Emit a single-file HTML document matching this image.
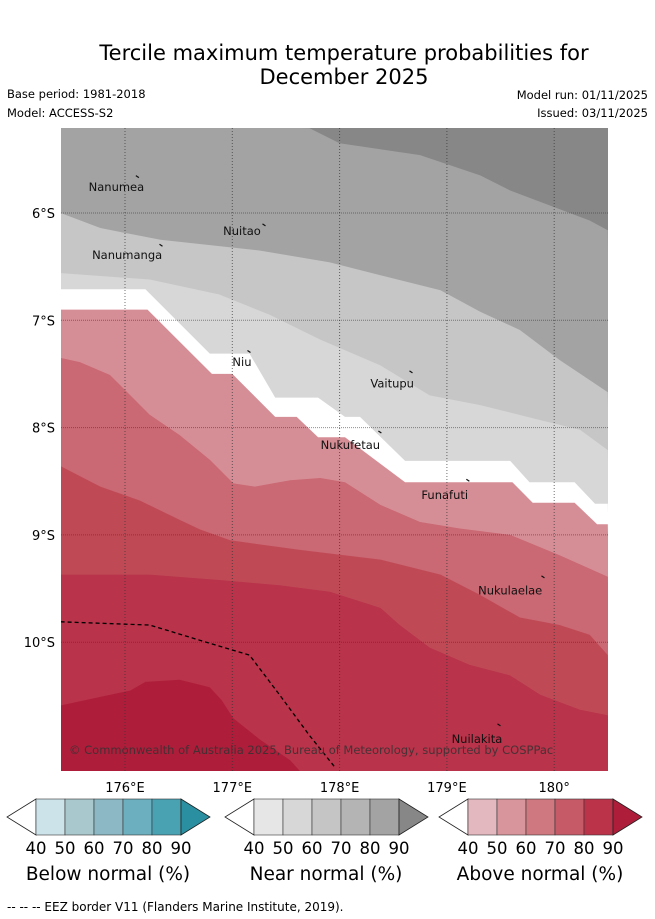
<!DOCTYPE html>
<html><head><meta charset="utf-8"><style>
body{margin:0;background:#fff;width:655px;height:919px;overflow:hidden;font-family:"DejaVu Sans","Liberation Sans",sans-serif}
svg{position:absolute;left:0;top:0}
</style></head><body>
<svg id="chart" width="655" height="919" xmlns="http://www.w3.org/2000/svg" font-family="DejaVu Sans, Liberation Sans, sans-serif">
<text x="344" y="60" font-size="21" text-anchor="middle">Tercile maximum temperature probabilities for</text>
<text x="344" y="84" font-size="21" text-anchor="middle">December 2025</text>
<text x="7" y="98" font-size="11.5">Base period: 1981-2018</text>
<text x="7" y="117" font-size="11.5">Model: ACCESS-S2</text>
<text x="648" y="99" font-size="11.5" text-anchor="end">Model run: 01/11/2025</text>
<text x="648" y="117" font-size="11.5" text-anchor="end">Issued: 03/11/2025</text>
<defs><clipPath id="mapclip"><rect x="61" y="128" width="547" height="643"/></clipPath></defs>
<g id="map" clip-path="url(#mapclip)"></g>
<g id="axes"></g>
<g id="bars"></g>
<text x="7" y="911" font-size="12">--  --  -- EEZ border V11 (Flanders Marine Institute, 2019).</text>
</svg>
<script>
// axis: lon (°E) -> x, lat (°S) -> y
const lonTicks=[176,177,178,179,180];
const lonTickLabels=["176°E","177°E","178°E","179°E","180°"];
const latTicks=[6,7,8,9,10];
const latTickLabels=["6°S","7°S","8°S","9°S","10°S"];
const bandColors=["#878787","#a3a3a3","#c6c6c6","#d7d7d7","#ffffff","#d68e96","#ca6873","#bf4a56","#b9334a","#ae1e3b"];
// boundaries (lon, lat) each separates band i and band i+1
const b1Lon=[177.72,178.00,178.75,179.31,179.59,179.96,180.33,180.50];
const b1Lat=[5.21,5.35,5.46,5.65,5.79,5.93,6.07,6.16];
const b2Lon=[175.40,175.77,176.33,177.26,177.91,178.38,178.94,179.31,179.68,180.05,180.50];
const b2Lat=[6.00,6.14,6.25,6.35,6.46,6.58,6.72,6.92,7.09,7.37,7.67];
const b3Lon=[175.40,176.23,176.88,177.35,177.82,178.38,178.84,179.31,179.87,180.24,180.50];
const b3Lat=[6.56,6.62,6.76,6.95,7.18,7.42,7.70,7.79,7.93,8.02,8.21];
const b4Lon=[175.40,176.19,176.79,177.16,177.40,177.80,178.05,178.19,178.61,179.59,179.77,180.19,180.38,180.50];
const b4Lat=[6.71,6.71,7.31,7.31,7.72,7.72,7.90,7.90,8.31,8.31,8.51,8.51,8.71,8.71];
const b5Lon=[175.40,176.21,176.81,177.00,177.40,177.60,177.80,178.05,178.61,179.61,179.80,180.19,180.40,180.50];
const b5Lat=[6.90,6.90,7.50,7.50,7.90,7.90,8.09,8.09,8.51,8.51,8.70,8.70,8.90,8.90];
const b6Lon=[175.40,175.58,175.86,176.05,176.23,176.51,176.79,177.01,177.21,177.54,177.82,178.05,178.38,178.75,179.12,179.59,180.05,180.50];
const b6Lat=[7.35,7.39,7.51,7.70,7.88,8.07,8.30,8.52,8.55,8.49,8.47,8.51,8.72,8.88,8.94,9.00,9.19,9.39];
const b7Lon=[175.40,175.77,176.14,176.51,176.70,176.98,177.63,178.38,178.94,179.31,179.68,180.05,180.33,180.50];
const b7Lat=[8.36,8.55,8.68,8.86,8.95,9.05,9.14,9.23,9.37,9.56,9.77,9.84,9.93,10.12];
const b8Lon=[175.40,176.23,176.88,177.44,177.91,178.38,178.56,178.84,179.21,179.59,179.87,180.24,180.50];
const b8Lat=[9.37,9.37,9.42,9.47,9.53,9.68,9.84,10.05,10.21,10.31,10.49,10.63,10.68];
const b9Lon=[175.40,175.77,176.05,176.19,176.51,176.79,176.90,177.01,177.26,177.54,177.63];
const b9Lat=[10.59,10.51,10.45,10.37,10.35,10.42,10.54,10.71,10.91,11.10,11.20];
const eezLon=[175.40,176.23,176.79,177.16,177.44,177.72,177.96];
const eezLat=[9.81,9.84,10.01,10.12,10.49,10.87,11.17];
const islandNames=["Nanumea","Nuitao","Nanumanga","Niu","Vaitupu","Nukufetau","Funafuti","Nukulaelae","Nuilakita"];
const islandLon=[176.12,177.30,176.34,177.16,178.67,178.38,179.20,179.90,179.49];
const islandLat=[5.67,6.12,6.31,7.30,7.49,8.05,8.50,9.40,10.78];
const labelLon=[175.92,177.09,176.02,177.09,178.49,178.10,178.98,179.59,179.28];
const labelLat=[5.76,6.17,6.39,7.39,7.59,8.16,8.63,9.52,10.90];

const NS="http://www.w3.org/2000/svg";
const x=lon=>125+(lon-176)*107.3;
const y=lat=>213+(lat-6)*107.3;
const X0=61,X1=608,Y0=128,Y1=771;
function mk(tag,attrs,parent){const e=document.createElementNS(NS,tag);for(const k in attrs)e.setAttribute(k,attrs[k]);parent.appendChild(e);return e;}
const map=document.getElementById('map');
const bounds=[[b1Lon,b1Lat],[b2Lon,b2Lat],[b3Lon,b3Lat],[b4Lon,b4Lat],[b5Lon,b5Lat],[b6Lon,b6Lat],[b7Lon,b7Lat],[b8Lon,b8Lat],[b9Lon,b9Lat]];
const bg=mk('rect',{x:X0,y:Y0,width:X1-X0,height:Y1-Y0,fill:bandColors[0]},map);


bounds.forEach((b,i)=>{
  const pts=b[0].map((lo,j)=>x(lo).toFixed(1)+','+y(b[1][j]).toFixed(1));
  const lastX=x(b[0][b[0].length-1]);
  let poly;
  if(i===0){poly=[(X0-5)+','+(Y0-5)].concat(pts,[(X1+5)+','+(Y1+5),(X0-5)+','+(Y1+5)]);}
  else if(i===8){poly=pts.concat([lastX+','+(Y1+5),(X0-5)+','+(Y1+5)]);}
  else poly=pts.concat([(X1+5)+','+(Y1+5),(X0-5)+','+(Y1+5)]);
  const p=mk('polygon',{points:poly.join(' '),fill:bandColors[i+1]},map);
  
  
});
// grid
lonTicks.forEach(t=>{const l=mk('line',{x1:x(t),x2:x(t),y1:Y0,y2:Y1,stroke:'#333','stroke-width':1,'stroke-dasharray':'1,2','stroke-opacity':0.7},map);

});
latTicks.forEach(t=>{const l=mk('line',{x1:X0,x2:X1,y1:y(t),y2:y(t),stroke:'#333','stroke-width':1,'stroke-dasharray':'1,1','stroke-opacity':0.55},map);

});
// EEZ
const eez=mk('polyline',{points:eezLon.map((lo,j)=>x(lo)+','+y(eezLat[j])).join(' '),fill:'none',stroke:'#000','stroke-width':1.3,'stroke-dasharray':'4,3'},map);


// islands
islandNames.forEach((n,i)=>{
  const m=mk('path',{d:`M${x(islandLon[i])-2},${y(islandLat[i])-2} l3,2`,stroke:'#111','stroke-width':1.2,fill:'none'},map);
  
  
  const t=mk('text',{x:x(labelLon[i]),y:y(labelLat[i])+4,'font-size':11.5,'text-anchor':'middle',fill:'#111'},map);
  t.textContent=n;
  
  
});
const cp=mk('text',{x:69,y:754,'font-size':11.5,fill:'#333','fill-opacity':0.85},map);
cp.textContent="© Commonwealth of Australia 2025, Bureau of Meteorology, supported by COSPPac";


// axes labels
const axes=document.getElementById('axes');
lonTicks.forEach((t,i)=>{const e=mk('text',{x:x(t),y:792,'font-size':13,'text-anchor':'middle'},axes);e.textContent=lonTickLabels[i];

});
latTicks.forEach((t,i)=>{const e=mk('text',{x:55,y:y(t)+5,'font-size':13,'text-anchor':'end'},axes);e.textContent=latTickLabels[i];

});
// colorbars
const barTitles=["Below normal (%)","Near normal (%)","Above normal (%)"];
const barColors=[["#cce3ea","#a9c8cd","#8bb8c4","#6cafbe","#48a2b2","#2a8fa0"],["#e6e6e6","#d7d7d7","#c5c5c5","#b4b4b4","#a3a3a3","#878787"],["#e3b8bf","#d9959c","#d07880","#c65a67","#bb3349","#ae1e3b"]];
const barTicks=["40","50","60","70","80","90"];
const barLeft=[36,254,468];
const bars=document.getElementById('bars');
barLeft.forEach((L,b)=>{
  const g=mk('g',{},bars);
  
  
  const T=799,B=835,M=817,W=29;
  mk('polygon',{points:`${L},${T} ${L-29},${M} ${L},${B}`,fill:'#fff',stroke:'#222','stroke-width':0.8},g);
  for(let k=0;k<5;k++) mk('rect',{x:L+k*W,y:T,width:W,height:B-T,fill:barColors[b][k],stroke:'#333','stroke-width':0.6},g);
  mk('polygon',{points:`${L+145},${T} ${L+174},${M} ${L+145},${B}`,fill:barColors[b][5],stroke:'#222','stroke-width':0.8},g);
  barTicks.forEach((t,k)=>{const e=mk('text',{x:L+k*W,y:854,'font-size':16.5,'text-anchor':'middle'},g);e.textContent=t;});
  const tt=mk('text',{x:L+72,y:880,'font-size':18.5,'text-anchor':'middle'},g);tt.textContent=barTitles[b];
});
</script>
</body></html>
